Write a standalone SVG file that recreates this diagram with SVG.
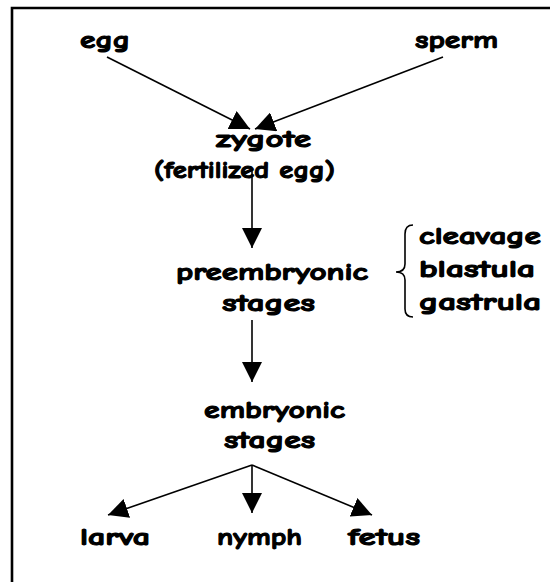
<svg xmlns="http://www.w3.org/2000/svg" width="550" height="582" viewBox="0 0 550 582">
<defs>
<style>
.t{font-family:"Comic Sans MS","Comic Neue","DejaVu Sans",sans-serif;font-weight:bold;font-size:25px;fill:#000;stroke:#000;stroke-width:1.1;stroke-linejoin:round}
.ln{stroke:#000;stroke-width:1.6;fill:none}
</style>
<marker id="ah" viewBox="0 0 20 20" refX="20" refY="10" markerWidth="20" markerHeight="20" markerUnits="userSpaceOnUse" orient="auto">
<path d="M0,0 L20,10 L0,20 Z" fill="#000"/>
</marker>
</defs>
<rect width="550" height="582" fill="#fff"/>
<path d="M12,582 V8 H550" fill="none" stroke="#000" stroke-width="2.6"/>
<g id="connectors">
<line class="ln" x1="107" y1="57" x2="250" y2="129" marker-end="url(#ah)"/>
<line class="ln" x1="443" y1="57" x2="255" y2="129" marker-end="url(#ah)"/>
<line class="ln" x1="252" y1="170" x2="252" y2="248" marker-end="url(#ah)"/>
<line class="ln" x1="252" y1="320" x2="252" y2="382" marker-end="url(#ah)"/>
<line class="ln" x1="252" y1="465" x2="252" y2="513" marker-end="url(#ah)"/>
<line class="ln" x1="252" y1="465" x2="108" y2="515" marker-end="url(#ah)"/>
<line class="ln" x1="252" y1="465" x2="372" y2="515" marker-end="url(#ah)"/>
<path class="ln" d="M413,225 Q405,225 405,234 V264 Q405,272 396,272 Q405,272 405,280 V309 Q405,317 413,317"/>
</g>
<g id="egg"><text class="t" x="80" y="48" textLength="50" lengthAdjust="spacingAndGlyphs">egg</text></g>
<g id="sperm"><text class="t" x="415" y="48" textLength="83" lengthAdjust="spacingAndGlyphs">sperm</text></g>
<g id="zygote">
<text class="t" x="216" y="147" textLength="95" lengthAdjust="spacingAndGlyphs">zygote</text>
<text class="t" x="154" y="178" textLength="181" lengthAdjust="spacingAndGlyphs">(fertilized egg)</text>
</g>
<g id="preembryonic">
<text class="t" x="176" y="280" textLength="192" lengthAdjust="spacingAndGlyphs">preembryonic</text>
<text class="t" x="222" y="311" textLength="93" lengthAdjust="spacingAndGlyphs">stages</text>
</g>
<g id="substages">
<text class="t" x="419" y="244" textLength="122" lengthAdjust="spacingAndGlyphs">cleavage</text>
<text class="t" x="419" y="277" textLength="116" lengthAdjust="spacingAndGlyphs">blastula</text>
<text class="t" x="419" y="310" textLength="122" lengthAdjust="spacingAndGlyphs">gastrula</text>
</g>
<g id="embryonic">
<text class="t" x="204" y="418" textLength="141" lengthAdjust="spacingAndGlyphs">embryonic</text>
<text class="t" x="224" y="448" textLength="91" lengthAdjust="spacingAndGlyphs">stages</text>
</g>
<g id="larva"><text class="t" x="80" y="545" textLength="70" lengthAdjust="spacingAndGlyphs">larva</text></g>
<g id="nymph"><text class="t" x="217" y="545" textLength="85" lengthAdjust="spacingAndGlyphs">nymph</text></g>
<g id="fetus"><text class="t" x="348" y="545" textLength="72" lengthAdjust="spacingAndGlyphs">fetus</text></g>
</svg>
